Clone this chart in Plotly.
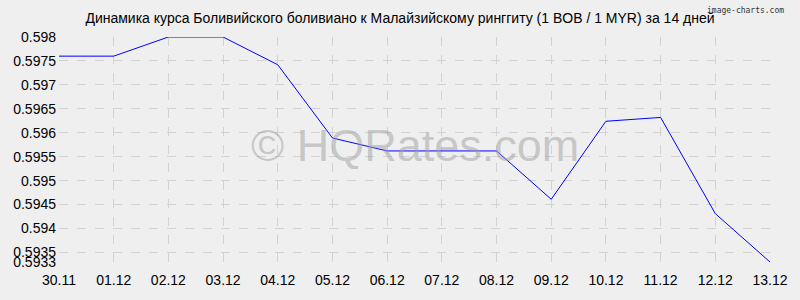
import plotly.graph_objects as go

dates = ["30.11", "01.12", "02.12", "03.12", "04.12", "05.12", "06.12",
         "07.12", "08.12", "09.12", "10.12", "11.12", "12.12", "13.12"]
rates = [0.5976, 0.5976, 0.5980, 0.5980, 0.59742, 0.59589, 0.59562,
         0.59562, 0.59562, 0.59461, 0.59624, 0.59632, 0.59431, 0.5933]
y_ticks = [0.598, 0.5975, 0.597, 0.5965, 0.596, 0.5955, 0.595, 0.5945, 0.594, 0.5935, 0.5933]
y_labels = ["0.598", "0.5975", "0.597", "0.5965", "0.596", "0.5955", "0.595", "0.5945", "0.594", "0.5935", "0.5933"]
title = "Динамика курса Боливийского боливиано к Малайзийскому ринггиту (1 BOB / 1 MYR) за 14 дней"

fig = go.Figure()
fig.add_trace(go.Scatter(x=list(range(len(dates))), y=rates, mode="lines",
                         line=dict(color="#0000ff", width=1), hoverinfo="skip"))

grid = dict(showgrid=True, gridcolor="#d2d2d2", griddash="dash", gridwidth=1, zeroline=False)
fig.update_layout(
    width=800, height=300,
    margin=dict(l=59, r=21, t=37, b=34),
    paper_bgcolor="#efefef", plot_bgcolor="#efefef",
    showlegend=False,
    font=dict(family="Liberation Sans, Arial, sans-serif", size=14, color="#000000"),
    title=dict(text=title, x=0.5, xanchor="center", y=0.94, yanchor="middle",
               font=dict(size=14, color="#000000")),
    xaxis=dict(range=[0, 13], tickmode="array", tickvals=list(range(len(dates))),
               ticktext=dates, ticks="", ticklen=0, showline=False,
               ticklabelstandoff=8, **grid),
    yaxis=dict(range=[0.5933, 0.598], tickmode="array", tickvals=y_ticks,
               ticktext=y_labels, ticks="", showline=False, ticklabelstandoff=2, **grid),
)
fig.add_annotation(text="© HQRates.com", x=0.5, y=0.52, xref="paper", yref="paper",
                   showarrow=False, font=dict(size=45, color="rgba(160,160,160,0.5)",
                                              family="Liberation Sans, Arial, sans-serif"))
fig.add_annotation(text="image-charts.com", x=1.022, y=1.145, xref="paper", yref="paper",
                   showarrow=False, xanchor="right", yanchor="top",
                   font=dict(size=8, color="#333333", family="DejaVu Sans Mono, monospace"))
fig.write_html("out.html")
